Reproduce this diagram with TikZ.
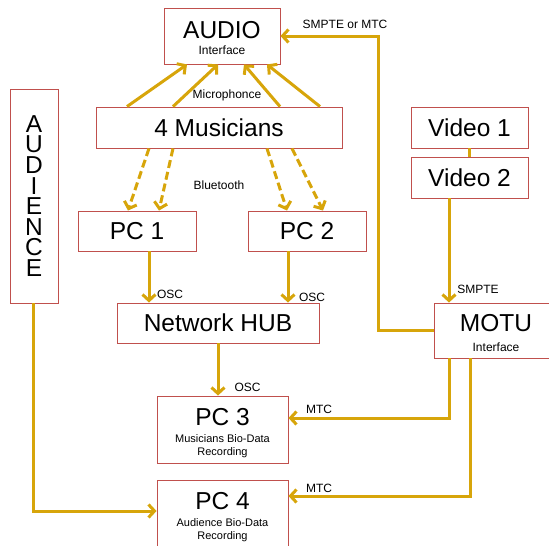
\documentclass[tikz,border=0pt]{standalone}
\usepackage{fontspec}
\setmainfont{Liberation Sans}
\usetikzlibrary{arrows.meta}
\definecolor{boxred}{RGB}{192,80,77}
\definecolor{flowgold}{RGB}{215,165,10}
\newcommand{\subtxt}{\fontsize{12}{13}\selectfont}
\newcommand{\notetxt}{\fontsize{11}{12}\selectfont}
\begin{document}
\begin{tikzpicture}[x=1pt,y=-1pt,
    box/.style={draw=boxred, line width=0.9pt, fill=white, align=center, inner sep=0pt, font=\fontsize{24.5}{27}\selectfont},
    flow/.style={draw=flowgold, line width=3pt, -{Straight Barb[length=6pt,width=13pt]}},
    radio/.style={flow, dash pattern=on 8pt off 4pt},
    wire/.style={draw=flowgold, line width=3pt},
    lbl/.style={inner sep=0pt, font=\subtxt}]
    \useasboundingbox (0,0) rectangle (549,546);

    % sources
    \node[box, minimum width=116, minimum height=56] (audio) at (222,36) {\rule{0pt}{21.6pt}AUDIO\\[-11pt]{\subtxt Interface}};
    \node[box, minimum width=246, minimum height=41] (musicians) at (219,127.5) {4 Musicians};
    \node[box, minimum width=48, minimum height=214, font=\fontsize{24.5}{20.6}\selectfont] (audience) at (34,196) {A\\U\\D\\I\\E\\N\\C\\E};
    \node[box, minimum width=117, minimum height=41] (video1) at (469.5,127.5) {Video 1};
    \node[box, minimum width=117, minimum height=41] (video2) at (469.5,177.5) {Video 2};

    % computers
    \node[box, minimum width=118, minimum height=40] (pc1) at (137,231) {PC 1};
    \node[box, minimum width=118, minimum height=40] (pc2) at (307,231) {PC 2};
    \node[box, minimum width=202, minimum height=40] (hub) at (218,323) {Network HUB};
    \node[box, minimum width=124, minimum height=55] (motu) at (496,330.5) {\rule{0pt}{22pt}MOTU\\[-7pt]{\subtxt Interface}};
    \node[box, minimum width=131, minimum height=67] (pc3) at (222.5,429.5) {\rule{0pt}{23.3pt}PC 3\\[-10pt]{\notetxt Musicians Bio-Data}\\[-14pt]{\notetxt Recording}};
    \node[box, minimum width=131, minimum height=67] (pc4) at (222.5,513.5) {\rule{0pt}{23.3pt}PC 4\\[-10pt]{\notetxt Audience Bio-Data}\\[-14pt]{\notetxt Recording}};

    % microphones
    \draw[flow] ([xshift=-92pt]musicians.north) -- ([xshift=-35pt]audio.south);
    \draw[flow] ([xshift=-46pt]musicians.north) -- ([xshift=-4pt]audio.south);
    \draw[flow] ([xshift=61pt]musicians.north) -- ([xshift=22pt]audio.south);
    \draw[flow] ([xshift=101pt]musicians.north) -- ([xshift=45pt]audio.south);
    \node[lbl] (mic) at (227,95) {Microphonce};

    % bluetooth
    \draw[radio] ([xshift=-70pt]musicians.south) -- ([xshift=-9pt]pc1.north);
    \draw[radio] ([xshift=-46pt]musicians.south) -- ([xshift=22pt]pc1.north);
    \draw[radio] ([xshift=48pt]musicians.south) -- ([xshift=-20pt]pc2.north);
    \draw[radio] ([xshift=73pt]musicians.south) -- ([xshift=16pt]pc2.north);
    \node[lbl] (bt) at (219,185) {Bluetooth};

    % osc
    \draw[flow] ([xshift=12pt]pc1.south) -- ([xshift=12pt]pc1.south |- hub.north);
    \node[lbl] (osc1) at (170,294) {OSC};
    \draw[flow] ([xshift=-19pt]pc2.south) -- ([xshift=-19pt]pc2.south |- hub.north);
    \node[lbl] (osc2) at (312,297) {OSC};
    \draw[flow] (hub.south) -- (hub.south |- pc3.north);
    \node[lbl] (osc3) at (247.5,387.5) {OSC};

    % timecode
    \draw[wire] (video1) -- (video2);
    \draw[flow] ([xshift=-20.5pt]video2.south) -- ([xshift=-20.5pt]video2.south |- motu.north);
    \node[lbl] (smpte) at (478,289) {SMPTE};
    \coordinate (sync) at (378,36);
    \draw[flow] (motu.west) -| (sync) -- (audio.east);
    \node[lbl] (smptemtc) at (345,24.5) {SMPTE or MTC};
    \draw[flow] ([xshift=-47pt]motu.south) |- ([yshift=11.5pt]pc3.east);
    \node[lbl] (mtc3) at (319,409) {MTC};
    \draw[flow] ([xshift=-26pt]motu.south) |- ([yshift=17.5pt]pc4.east);
    \node[lbl] (mtc4) at (319,488) {MTC};

    % audience
    \draw[flow] ([xshift=-1pt]audience.south) |- ([yshift=2.5pt]pc4.west);
\end{tikzpicture}
\end{document}
